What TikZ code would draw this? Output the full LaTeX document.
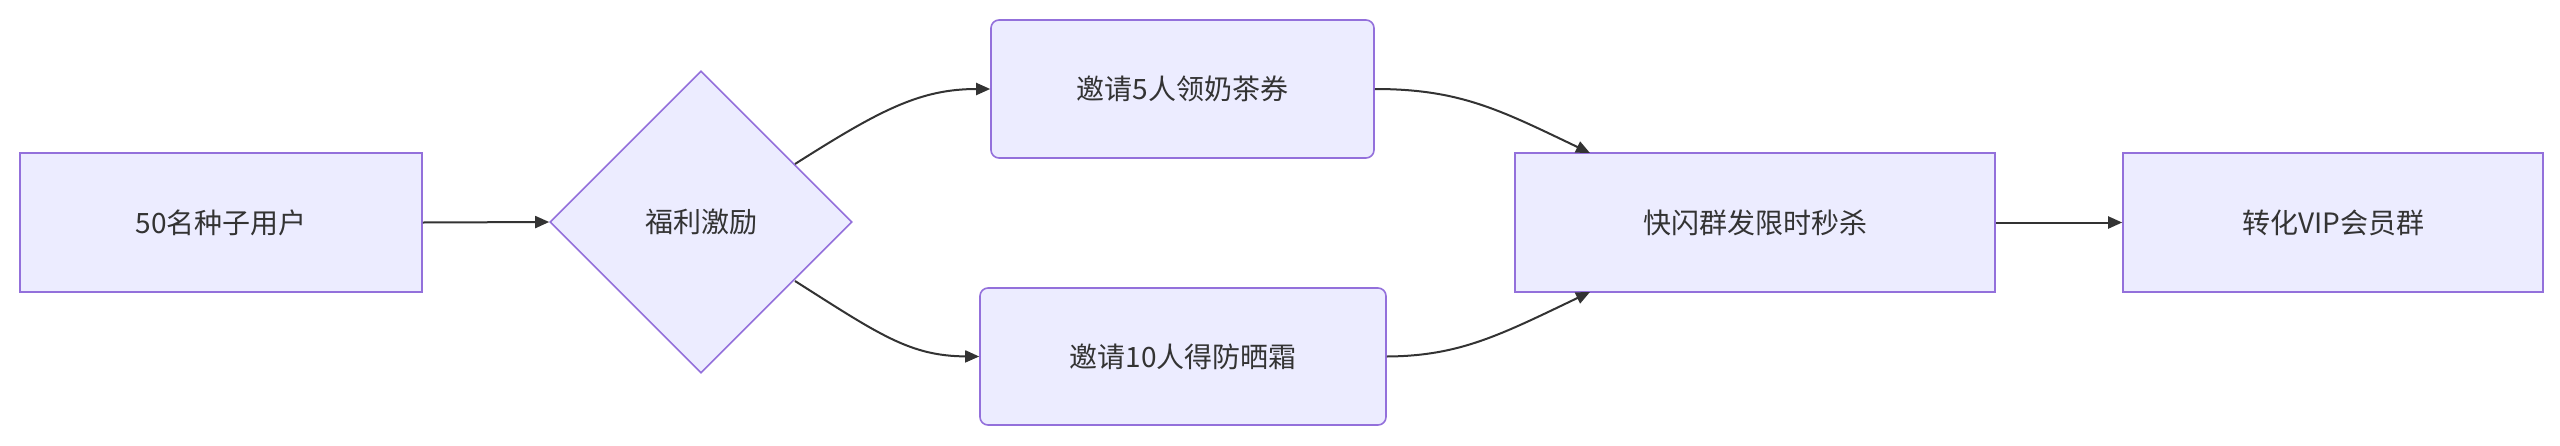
\documentclass[tikz,border=0pt]{standalone}
\usepackage{fontspec}
\setmainfont{Noto Sans CJK SC}
\usetikzlibrary{shapes.geometric,arrows.meta}
\definecolor{nfill}{HTML}{ECECFF}
\definecolor{nline}{HTML}{9370DB}
\definecolor{eline}{HTML}{333333}
\begin{document}
\begin{tikzpicture}[x=1pt,y=-1pt,
  box/.style={draw=nline,fill=nfill,line width=1.6pt,inner sep=0pt,font=\fontsize{28}{32}\selectfont,text=eline},
  rbox/.style={box,rounded corners=8pt},
  edge/.style={draw=eline,line width=2pt,-{Triangle[length=14pt,width=12pt]}}]
\useasboundingbox (0,0) rectangle (2560,445);
\node[box,minimum width=402pt,minimum height=139pt] (a) at (221,222.5) {50名种子用户};
\node[box,diamond,minimum width=302pt,minimum height=302pt,aspect=1] (d) at (701,222) {福利激励};
\node[rbox,minimum width=383pt,minimum height=138pt] (b) at (1182.5,89) {邀请5人领奶茶券};
\node[rbox,minimum width=406pt,minimum height=137pt] (c) at (1183,356.5) {邀请10人得防晒霜};
\node[box,minimum width=480pt,minimum height=139pt] (f) at (1755,222.5) {快闪群发限时秒杀};
\node[box,minimum width=420pt,minimum height=139pt] (e) at (2333,222.5) {转化VIP会员群};
\coordinate (d1) at (795,164);
\coordinate (d2) at (795,281);
\coordinate (f1) at (1590,153);
\coordinate (f2) at (1590,292);
\draw[edge] (a.east) -- (d.west);
\draw[edge] (d1) .. controls (880,110) and (920,89) .. (b.west);
\draw[edge] (d2) .. controls (880,335) and (910,356) .. (c.west);
\draw[edge] (b.east) .. controls (1460,89) and (1500,110) .. (f1);
\draw[edge] (c.east) .. controls (1460,356) and (1500,335) .. (f2);
\draw[edge] (f.east) -- (e.west);
\end{tikzpicture}
\end{document}
